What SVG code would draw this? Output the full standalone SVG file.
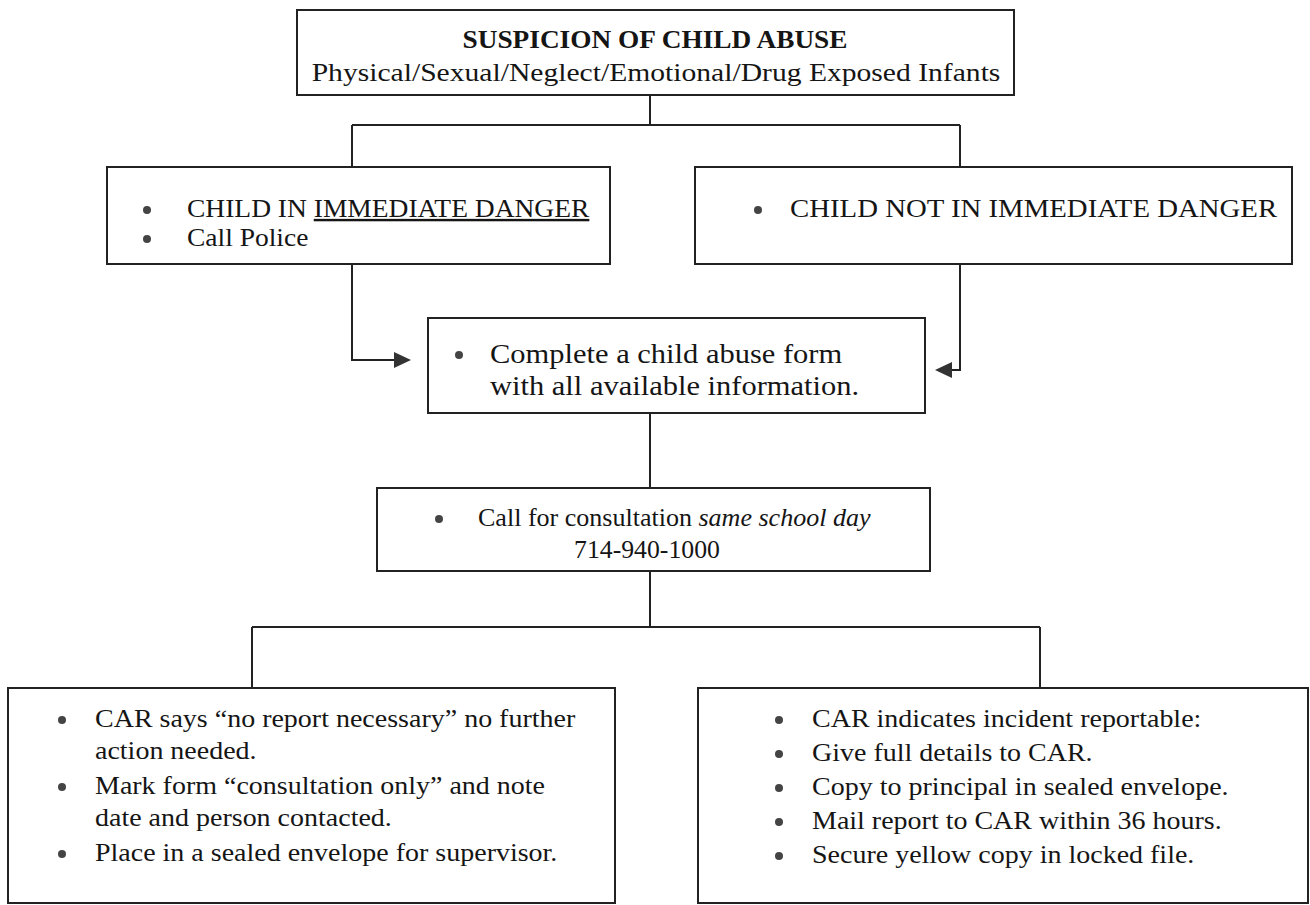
<svg xmlns="http://www.w3.org/2000/svg" width="1310" height="905" viewBox="0 0 1310 905">
<defs>
<style>
.box{fill:#fff;stroke:#222;stroke-width:2}
.ln{fill:none;stroke:#222;stroke-width:2}
.t{font-size:28px;fill:#151515}
.b{font-weight:bold}
.c{text-anchor:middle}
.dot{fill:#444}
</style>
</defs>
<rect width="1310" height="905" fill="#fff"/>
<g id="connectors">
<path class="ln" d="M650,95 V125 M352,125 H960 M352,125 V167 M960,125 V167"/>
<path class="ln" d="M352,264 V360 H396"/>
<path d="M394,352 L411,360 L394,368 Z" fill="#333"/>
<path class="ln" d="M960,264 V370 H950"/>
<path d="M952,362 L935,370 L952,378 Z" fill="#333"/>
<path class="ln" d="M650,413 V488 M650,571 V627 M252,627 H1040 M252,627 V688 M1040,627 V688"/>
</g>
<g font-family="'Liberation Serif', 'DejaVu Serif', 'Times New Roman', serif">
<g id="n-suspicion">
<rect class="box" x="297" y="10" width="717" height="85"/>
<text class="t b c" transform="translate(655,48) scale(0.975,0.9)">SUSPICION OF CHILD ABUSE</text>
<text class="t c" style="font-size:29.6px" transform="translate(656,81) scale(1,0.88)">Physical/Sexual/Neglect/Emotional/Drug Exposed Infants</text>
</g>
<g id="n-immediate">
<rect class="box" x="107" y="167" width="503" height="97"/>
<circle class="dot" cx="147" cy="210" r="4"/>
<text class="t" style="font-size:27.5px" transform="translate(187,217) scale(1,0.88)">CHILD IN <tspan text-decoration="underline">IMMEDIATE DANGER</tspan></text>
<circle class="dot" cx="147" cy="239" r="4"/>
<text class="t" style="font-size:27.5px" transform="translate(187,246) scale(1,0.88)">Call Police</text>
</g>
<g id="n-not-immediate">
<rect class="box" x="695" y="167" width="597" height="97"/>
<circle class="dot" cx="758" cy="210" r="4"/>
<text class="t" style="font-size:28.8px" transform="translate(790,217) scale(1,0.88)">CHILD NOT IN IMMEDIATE DANGER</text>
</g>
<g id="n-form">
<rect class="box" x="428" y="318" width="497" height="95"/>
<circle class="dot" cx="459" cy="355" r="4"/>
<text class="t" style="font-size:30.5px" transform="translate(490,363) scale(1,0.88)">Complete a child abuse form</text>
<text class="t" style="font-size:30.5px" transform="translate(490,395) scale(1,0.88)">with all available information.</text>
</g>
<g id="n-consult">
<rect class="box" x="377" y="488" width="553" height="83"/>
<circle class="dot" cx="439" cy="519" r="4"/>
<text class="t" transform="translate(478,526) scale(0.93,0.9)">Call for consultation <tspan font-style="italic">same school day</tspan></text>
<text class="t c" transform="translate(647,558) scale(0.92,0.9)">714-940-1000</text>
</g>
<g id="n-no-report">
<rect class="box" x="8" y="688" width="607" height="215"/>
<circle class="dot" cx="62" cy="720" r="4"/>
<text class="t" transform="translate(95,727) scale(1,0.88)">CAR says “no report necessary” no further</text>
<text class="t" transform="translate(95,759) scale(1,0.88)">action needed.</text>
<circle class="dot" cx="62" cy="787" r="4"/>
<text class="t" transform="translate(95,794) scale(1,0.88)">Mark form “consultation only” and note</text>
<text class="t" transform="translate(95,826) scale(1,0.88)">date and person contacted.</text>
<circle class="dot" cx="62" cy="854" r="4"/>
<text class="t" transform="translate(95,861) scale(1,0.88)">Place in a sealed envelope for supervisor.</text>
</g>
<g id="n-reportable">
<rect class="box" x="698" y="688" width="610" height="215"/>
<circle class="dot" cx="779" cy="720" r="4"/>
<text class="t" transform="translate(812,727) scale(1,0.88)">CAR indicates incident reportable:</text>
<circle class="dot" cx="779" cy="754" r="4"/>
<text class="t" transform="translate(812,761) scale(1,0.88)">Give full details to CAR.</text>
<circle class="dot" cx="779" cy="788" r="4"/>
<text class="t" transform="translate(812,795) scale(1,0.88)">Copy to principal in sealed envelope.</text>
<circle class="dot" cx="779" cy="822" r="4"/>
<text class="t" transform="translate(812,829) scale(1,0.88)">Mail report to CAR within 36 hours.</text>
<circle class="dot" cx="779" cy="856" r="4"/>
<text class="t" transform="translate(812,863) scale(1,0.88)">Secure yellow copy in locked file.</text>
</g>
</g>
</svg>
